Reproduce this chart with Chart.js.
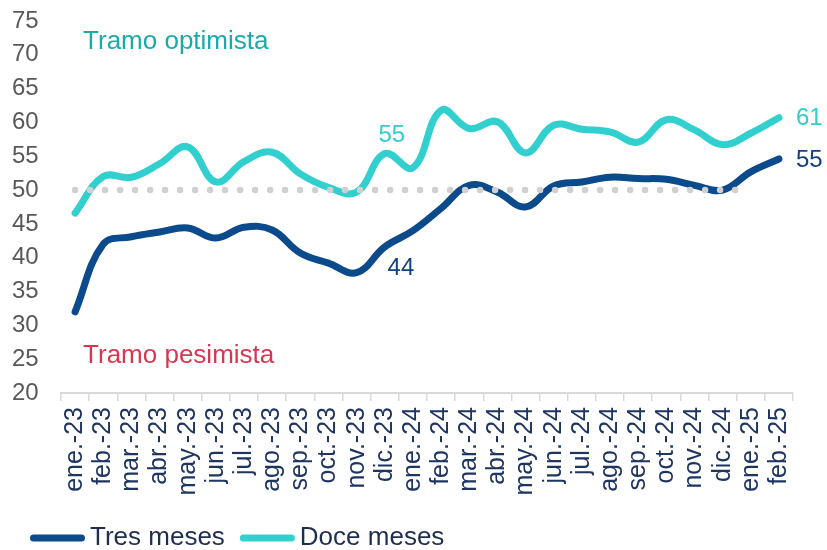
<!DOCTYPE html>
<html>
<head>
<meta charset="utf-8">
<script src="https://cdn.jsdelivr.net/npm/chart.js@4"></script>
<style>
  html, body { margin: 0; padding: 0; background: #fff; }
</style>
</head>
<body>
<canvas id="chart" width="827" height="550"></canvas>
<script>
const months = [
  'ene.-23', 'feb.-23', 'mar.-23', 'abr.-23', 'may.-23', 'jun.-23', 'jul.-23',
  'ago.-23', 'sep.-23', 'oct.-23', 'nov.-23', 'dic.-23', 'ene.-24', 'feb.-24',
  'mar.-24', 'abr.-24', 'may.-24', 'jun.-24', 'jul.-24', 'ago.-24', 'sep.-24',
  'oct.-24', 'nov.-24', 'dic.-24', 'ene.-25', 'feb.-25'
];
const tresMeses = [
  32.0, 42.0, 43.1, 43.8, 44.4, 42.9, 44.5, 44.1, 40.7, 39.2, 37.8, 41.6, 44.0,
  47.3, 50.7, 49.7, 47.5, 50.6, 51.2, 51.9, 51.7, 51.6, 50.7, 50.0, 52.7, 54.6
];
const doceMeses = [
  46.6, 52.0, 51.9, 53.9, 56.4, 51.2, 54.2, 55.6, 52.4, 50.4, 49.7, 55.4, 53.3,
  61.8, 59.1, 60.1, 55.5, 59.6, 59.0, 58.6, 57.1, 60.4, 58.9, 56.7, 58.4, 60.7
];
const yTicks = { min: 20, max: 75, step: 5 };
const neutralLevel = 50;
const neutralEnd = 23.5;   // dotted 50 line stops half way into ene.-25

const FONT = "'Liberation Sans', Arial, sans-serif";
const DARK = '#0B4A8B';
const CYAN = '#32CFCF';

// labels written next to selected points
const pointLabels = [
  { ds: 1, i: 11, dx: 7, dy: -18, align: 'center', color: '#33CCCC' },
  { ds: 0, i: 12, dx: -12, dy: 38, align: 'center', color: '#13427F' },
  { ds: 1, i: 25, dx: 17, dy: 1, align: 'left', color: '#33CCCC' },
  { ds: 0, i: 25, dx: 17, dy: 1, align: 'left', color: '#13427F' }
];

const extras = {
  id: 'extras',
  afterDatasetsDraw(chart) {
    const ctx = chart.ctx;
    const x = chart.scales.x, y = chart.scales.y;
    const yy = y.getPixelForValue(neutralLevel);

    // dotted neutral line
    ctx.save();
    ctx.strokeStyle = '#D0D0D0';
    ctx.lineWidth = 6.5;
    ctx.lineCap = 'round';
    ctx.setLineDash([0, 15]);
    ctx.beginPath();
    ctx.moveTo(x.getPixelForValue(0), yy);
    ctx.lineTo(x.getPixelForValue(neutralEnd), yy);
    ctx.stroke();
    ctx.restore();

    // zone captions
    ctx.save();
    ctx.font = '26px ' + FONT;
    ctx.textBaseline = 'middle';
    ctx.textAlign = 'left';
    ctx.fillStyle = '#1AABA8';
    ctx.fillText('Tramo optimista', x.getPixelForValue(0) + 8, y.getPixelForValue(71.9));
    ctx.fillStyle = '#D93651';
    ctx.fillText('Tramo pesimista', x.getPixelForValue(0) + 8, y.getPixelForValue(25.5));

    // value labels
    ctx.font = '24px ' + FONT;
    pointLabels.forEach(l => {
      const v = chart.data.datasets[l.ds].data[l.i];
      ctx.fillStyle = l.color;
      ctx.textAlign = l.align;
      ctx.fillText(String(Math.round(v)), x.getPixelForValue(l.i) + l.dx, y.getPixelForValue(v) + l.dy);
    });
    ctx.restore();
  },
  afterDraw(chart) {
    // legend along the bottom
    const ctx = chart.ctx;
    ctx.save();
    ctx.font = '26px ' + FONT;
    ctx.textBaseline = 'middle';
    ctx.textAlign = 'left';
    let lx = 30;
    const ly = 538;
    chart.data.datasets.forEach(ds => {
      ctx.strokeStyle = ds.borderColor;
      ctx.lineWidth = 7;
      ctx.lineCap = 'round';
      ctx.beginPath();
      ctx.moveTo(lx + 3.5, ly);
      ctx.lineTo(lx + 51.5, ly);
      ctx.stroke();
      ctx.fillStyle = '#1F2D4F';
      ctx.fillText(ds.label, lx + 60, ly);
      lx += 60 + ctx.measureText(ds.label).width + 15;
    });
    ctx.restore();
  }
};

new Chart(document.getElementById('chart'), {
  type: 'line',
  data: {
    labels: months,
    datasets: [
      {
        label: 'Tres meses',
        data: tresMeses,
        borderColor: DARK,
        borderWidth: 7,
        borderCapStyle: 'round',
        pointRadius: 0,
        tension: 0.4
      },
      {
        label: 'Doce meses',
        data: doceMeses,
        borderColor: CYAN,
        borderWidth: 7,
        borderCapStyle: 'round',
        pointRadius: 0,
        tension: 0.4
      }
    ]
  },
  options: {
    responsive: false,
    animation: false,
    devicePixelRatio: 1,
    layout: { padding: { left: 12, top: 21, right: 34, bottom: 47 } },
    plugins: {
      legend: { display: false },
      tooltip: { enabled: false }
    },
    scales: {
      x: {
        offset: true,
        grid: {
          offset: true,
          drawOnChartArea: false,
          drawTicks: true,
          tickLength: 8,
          color: '#D9D9D9',
          lineWidth: 1.5
        },
        border: { color: '#D9D9D9', width: 2 },
        ticks: {
          autoSkip: false,
          minRotation: 90,
          maxRotation: 90,
          padding: 6,
          color: '#1E3461',
          font: { family: FONT, size: 25 }
        },
        afterFit(scale) { scale.height = 110; }
      },
      y: {
        min: yTicks.min,
        max: yTicks.max,
        grid: { display: false, drawTicks: false },
        border: { display: false },
        ticks: {
          stepSize: yTicks.step,
          padding: 0,
          crossAlign: 'far',
          color: '#595959',
          font: { family: FONT, size: 24 }
        },
        afterFit(scale) { scale.width = 49; }
      }
    }
  },
  plugins: [extras]
});
</script>
</body>
</html>
